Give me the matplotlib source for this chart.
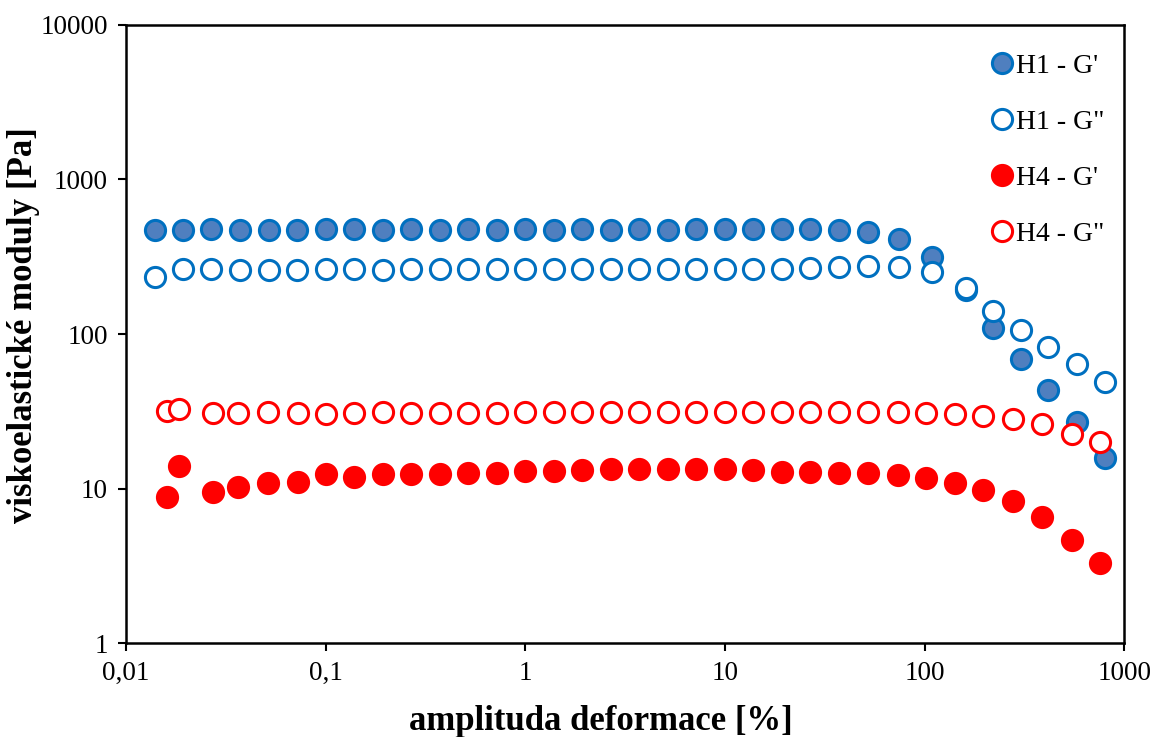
import numpy as np
import matplotlib
matplotlib.use("Agg")
import matplotlib.pyplot as plt
from matplotlib.ticker import FixedLocator, FixedFormatter, NullLocator

plt.rcParams['font.family'] = ['Liberation Serif', 'DejaVu Serif']

# amplitude [%]
x_h1 = [0.0139, 0.0193, 0.0268, 0.0373, 0.0518, 0.072, 0.1, 0.139, 0.193, 0.268,
        0.373, 0.518, 0.72, 1.0, 1.39, 1.93, 2.68, 3.73, 5.18, 7.2,
        10, 13.9, 19.3, 26.8, 37.3, 51.8, 74.6, 109, 161, 221,
        305, 416, 580, 803]
x_h4 = [0.016, 0.0184, 0.0273, 0.0364, 0.0514, 0.0728, 0.1, 0.139, 0.193, 0.268,
        0.373, 0.518, 0.72, 1.0, 1.39, 1.93, 2.68, 3.73, 5.18, 7.2,
        10, 13.9, 19.3, 26.8, 37.3, 51.8, 73.8, 102, 142, 197,
        278, 388, 549, 759]

h1_g1 = [468, 470, 476, 474, 470, 474, 475, 478, 474, 475,
         474, 476, 474, 475, 474, 475, 474, 476, 474, 476,
         478, 478, 479, 480, 471, 457, 412, 315, 193, 109,
         68.9, 43.4, 26.9, 15.7]
h1_g2 = [234, 265, 263, 261, 261, 259, 264, 263, 260, 264,
         262, 262, 262, 263, 262, 262, 262, 262, 262, 262,
         262, 263, 265, 268, 271, 275, 272, 252, 198, 141,
         106, 82.4, 64, 48.9]
h4_g1 = [8.8, 14.0, 9.5, 10.2, 10.9, 11.0, 12.4, 11.9, 12.4, 12.4,
         12.4, 12.6, 12.6, 12.9, 12.9, 13.2, 13.4, 13.4, 13.4, 13.4,
         13.4, 13.2, 12.8, 12.8, 12.6, 12.6, 12.2, 11.7, 10.9, 9.8,
         8.3, 6.5, 4.64, 3.3]
h4_g2 = [31.8, 32.7, 30.8, 30.8, 31.5, 30.8, 30.3, 30.8, 31.2, 31.0,
         31.0, 31.0, 31.0, 31.2, 31.2, 31.2, 31.5, 31.5, 31.5, 31.5,
         31.5, 31.5, 31.3, 31.3, 31.3, 31.5, 31.3, 31.0, 30.5, 29.5,
         28.2, 26.2, 22.5, 20.0]

labels = ["H1 - G'", 'H1 - G"', "H4 - G'", 'H4 - G"']

x_ticks = [0.01, 0.1, 1, 10, 100, 1000]
x_ticklabels = ["0,01", "0,1", "1", "10", "100", "1000"]
y_ticks = [1, 10, 100, 1000, 10000]
y_ticklabels = ["1", "10", "100", "1000", "10000"]

blue_edge = '#0070C0'
blue_fill = '#4F7FBF'
red = '#FF0000'

fig = plt.figure(figsize=(11.53, 7.37), dpi=100)
ax = fig.add_axes([0.1093, 0.1275, 0.8657, 0.8386])

ms = 14.5
mew = 2.2
ax.plot(x_h1, h1_g1, 'o', ms=ms, mfc=blue_fill, mec=blue_edge, mew=mew, label=labels[0])
ax.plot(x_h1, h1_g2, 'o', ms=ms, mfc='white', mec=blue_edge, mew=mew, label=labels[1])
ax.plot(x_h4, h4_g1, 'o', ms=ms, mfc=red, mec=red, mew=mew, label=labels[2])
ax.plot(x_h4, h4_g2, 'o', ms=ms, mfc='white', mec=red, mew=mew, label=labels[3])

ax.set_xscale('log')
ax.set_yscale('log')
ax.set_xlim(0.01, 1000)
ax.set_ylim(1, 10000)

ax.xaxis.set_major_locator(FixedLocator(x_ticks))
ax.xaxis.set_major_formatter(FixedFormatter(x_ticklabels))
ax.yaxis.set_major_locator(FixedLocator(y_ticks))
ax.yaxis.set_major_formatter(FixedFormatter(y_ticklabels))
ax.xaxis.set_minor_locator(NullLocator())
ax.yaxis.set_minor_locator(NullLocator())

ax.tick_params(axis='both', direction='out', length=6, width=1.5, labelsize=19.5, pad=7)
for s in ax.spines.values():
    s.set_linewidth(1.8)

ax.set_xlabel("amplituda deformace [%]", fontsize=25, fontweight='bold')
ax.set_ylabel("viskoelastické moduly [Pa]", fontsize=25, fontweight='bold')
ax.xaxis.set_label_coords(0.476, -0.1)
ax.yaxis.set_label_coords(-0.086, 0.515)

leg = ax.legend(loc='upper right', bbox_to_anchor=(1.0, 0.985), frameon=False, fontsize=20,
                handletextpad=0.0, labelspacing=1.1, handlelength=1.0, borderaxespad=0.3)

fig.savefig("out.png", dpi=100)
